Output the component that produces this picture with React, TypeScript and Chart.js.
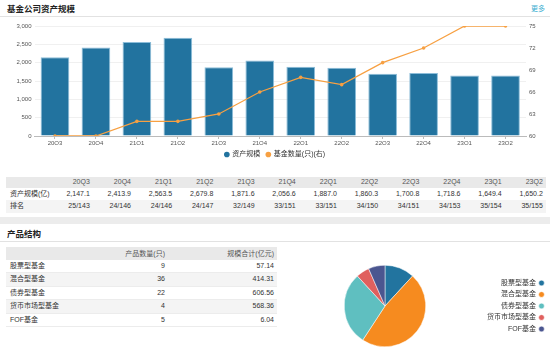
import React, { useEffect, useRef } from 'react';
import { Chart, registerables } from 'chart.js';

Chart.register(...registerables);

const quarters = ['20Q3', '20Q4', '21Q1', '21Q2', '21Q3', '21Q4', '22Q1', '22Q2', '22Q3', '22Q4', '23Q1', '23Q2'];
const assetScale = [2147.1, 2413.9, 2563.5, 2679.8, 1871.6, 2056.6, 1887.0, 1860.3, 1700.8, 1718.6, 1649.4, 1650.2];
const fundCount = [60, 60, 62, 62, 63, 66, 68, 67, 70, 72, 75, 75];
const rankings = ['25/143', '24/146', '24/146', '24/147', '32/149', '33/151', '33/151', '34/150', '34/151', '34/153', '35/154', '35/155'];

const productTypes = ['股票型基金', '混合型基金', '债券型基金', '货币市场型基金', 'FOF基金'];
const productCounts = [9, 36, 22, 4, 5];
const productScales = [57.14, 414.31, 606.56, 568.36, 6.04];

const pieColors = ['#22749f', '#f68b1f', '#5fbfc0', '#e0605e', '#4b5690'];

const FONT = '"Liberation Sans", Arial, "Noto Sans CJK SC", sans-serif';

function fmt1(v: number) {
  return v.toLocaleString('en-US', { minimumFractionDigits: 1, maximumFractionDigits: 1 });
}

function ScaleChart() {
  const ref = useRef<HTMLCanvasElement>(null);
  useEffect(() => {
    const chart = new Chart(ref.current!, {
      data: {
        labels: quarters,
        datasets: [
          {
            type: 'bar',
            label: '资产规模',
            data: assetScale,
            yAxisID: 'y',
            backgroundColor: '#22739f',
            borderColor: '#8cbdd9',
            borderWidth: 1,
            barPercentage: 0.7,
            categoryPercentage: 1,
            order: 1,
          } as any,
          {
            type: 'line',
            label: '基金数量(只)(右)',
            data: fundCount,
            yAxisID: 'y1',
            borderColor: '#f7a042',
            backgroundColor: '#f7a042',
            borderWidth: 1.3,
            pointRadius: 1.8,
            pointBorderWidth: 0,
            tension: 0,
            order: 0,
          } as any,
        ],
      },
      options: {
        animation: false,
        responsive: false,
        maintainAspectRatio: false,
        layout: { padding: { top: 8, left: 0, right: 0, bottom: 0 } },
        plugins: {
          tooltip: { enabled: false },
          legend: {
            position: 'bottom',
            labels: {
              usePointStyle: true,
              pointStyle: 'circle',
              boxWidth: 4,
              boxHeight: 4,
              padding: 6,
              color: '#333',
              font: { size: 7, family: FONT },
              sort: (a: any, b: any) => a.datasetIndex - b.datasetIndex,
              generateLabels: (c: any) =>
                (Chart.defaults.plugins.legend.labels.generateLabels as any)(c).map((l: any) => ({
                  ...l,
                  lineWidth: 0,
                  strokeStyle: 'rgba(0,0,0,0)',
                })),
            },
          },
        },
        scales: {
          x: {
            grid: { display: true, drawOnChartArea: false, drawTicks: true, tickLength: 3, color: '#bbbbbb', offset: false },
            border: { display: true, color: '#bbbbbb' },
            ticks: { font: { size: 6, family: FONT }, color: '#555', padding: 1 },
            afterFit: (s: any) => { s.height = 9; },
          },
          y: {
            position: 'left',
            min: 0,
            max: 3000,
            ticks: {
              stepSize: 500,
              font: { size: 6, family: FONT },
              color: '#555',
              padding: 3,
              callback: (v: any) => Number(v).toLocaleString('en-US'),
            },
            grid: { color: '#f0f0f0', drawTicks: false },
            border: { display: false },
            afterFit: (s: any) => { s.width = 34.5; },
          },
          y1: {
            position: 'right',
            min: 60,
            max: 75,
            ticks: { stepSize: 3, font: { size: 6, family: FONT }, color: '#555', padding: 3 },
            grid: { drawOnChartArea: false, drawTicks: false },
            border: { display: false },
            afterFit: (s: any) => { s.width = 24; },
          },
        },
      } as any,
    });
    return () => chart.destroy();
  }, []);
  return <canvas ref={ref} width={550} height={150} style={{ position: 'absolute', left: 0, top: 18, width: 550, height: 150 }} />;
}

function PieChart() {
  const ref = useRef<HTMLCanvasElement>(null);
  useEffect(() => {
    const chart = new Chart(ref.current!, {
      type: 'pie',
      data: {
        labels: productTypes,
        datasets: [
          {
            data: productCounts,
            backgroundColor: pieColors,
            borderColor: '#ffffff',
            borderWidth: 0.5,
          },
        ],
      },
      options: {
        animation: false,
        responsive: false,
        maintainAspectRatio: false,
        layout: { padding: { top: 10, bottom: 5, left: 0, right: 0 } },
        plugins: {
          tooltip: { enabled: false },
          legend: {
            position: 'right',
            rtl: true,
            labels: {
              usePointStyle: true,
              pointStyle: 'circle',
              boxWidth: 4,
              boxHeight: 4,
              padding: 4.5,
              color: '#333',
              font: { size: 7, family: FONT },
            },
          },
        },
      } as any,
    });
    return () => chart.destroy();
  }, []);
  return <canvas ref={ref} width={255} height={97} style={{ position: 'absolute', left: 293, top: 255, width: 255, height: 97 }} />;
}

const cellR: React.CSSProperties = { textAlign: 'right', paddingRight: 3, whiteSpace: 'nowrap' };
const cellL: React.CSSProperties = { textAlign: 'left', paddingLeft: 4, whiteSpace: 'nowrap' };

function QuarterTable() {
  const cols = '45.6px repeat(12, 41.2px)';
  const row = (h: number, bg: string, color: string): React.CSSProperties => ({
    display: 'grid',
    gridTemplateColumns: cols,
    height: h,
    lineHeight: h + 'px',
    background: bg,
    color,
  });
  return (
    <div style={{ position: 'absolute', left: 6, top: 177, width: 540, fontSize: 7, fontFamily: FONT }}>
      <div style={row(10.5, '#e9e9e9', '#555')}>
        <div style={cellL}></div>
        {quarters.map((q) => (
          <div key={q} style={cellR}>{q}</div>
        ))}
      </div>
      <div style={row(12.5, '#ffffff', '#333')}>
        <div style={cellL}>资产规模(亿)</div>
        {assetScale.map((v, i) => (
          <div key={i} style={cellR}>{fmt1(v)}</div>
        ))}
      </div>
      <div style={row(12.5, '#f4f4f4', '#333')}>
        <div style={cellL}>排名</div>
        {rankings.map((v, i) => (
          <div key={i} style={cellR}>{v}</div>
        ))}
      </div>
    </div>
  );
}

function ProductTable() {
  const cols = '94px 68px 109px';
  const row = (h: number, bg: string, color: string, border: boolean): React.CSSProperties => ({
    display: 'grid',
    gridTemplateColumns: cols,
    height: h,
    lineHeight: (border ? h - 1 : h) + 'px',
    background: bg,
    color,
    boxSizing: 'border-box',
    borderBottom: border ? '1px solid #ececec' : 'none',
  });
  return (
    <div style={{ position: 'absolute', left: 6, top: 247, width: 271, fontSize: 7, fontFamily: FONT }}>
      <div style={row(13, '#e9e9e9', '#555', false)}>
        <div style={cellL}></div>
        <div style={cellR}>产品数量(只)</div>
        <div style={cellR}>规模合计(亿元)</div>
      </div>
      {productTypes.map((t, i) => (
        <div key={t} style={row(13.4, i % 2 === 1 ? '#f4f4f4' : '#ffffff', '#333', true)}>
          <div style={cellL}>{t}</div>
          <div style={cellR}>{productCounts[i]}</div>
          <div style={cellR}>{productScales[i].toFixed(2)}</div>
        </div>
      ))}
    </div>
  );
}

export default function App() {
  const titleStyle: React.CSSProperties = {
    position: 'absolute',
    left: 7,
    fontSize: 8.5,
    fontWeight: 'bold',
    color: '#222',
    fontFamily: '"Noto Sans CJK SC", sans-serif',
    lineHeight: '12px',
    whiteSpace: 'nowrap',
  };
  return (
    <div style={{ position: 'absolute', left: 0, top: 0, width: 550, height: 352, background: '#fff', overflow: 'hidden', fontFamily: FONT }}>
      <div style={{ ...titleStyle, top: 2 }}>基金公司资产规模</div>
      <div style={{ position: 'absolute', right: 5, top: 2, fontSize: 7, lineHeight: '12px', color: '#3aaed0', fontFamily: '"Noto Sans CJK SC", sans-serif' }}>更多</div>
      <div style={{ position: 'absolute', left: 0, top: 16, width: 550, height: 1, background: '#e2e2e2' }} />
      <ScaleChart />
      <QuarterTable />
      <div style={{ position: 'absolute', left: 0, top: 217, width: 550, height: 7, background: '#ececec' }} />
      <div style={{ ...titleStyle, top: 227 }}>产品结构</div>
      <div style={{ position: 'absolute', left: 0, top: 241, width: 550, height: 1, background: '#e2e2e2' }} />
      <ProductTable />
      <PieChart />
    </div>
  );
}
